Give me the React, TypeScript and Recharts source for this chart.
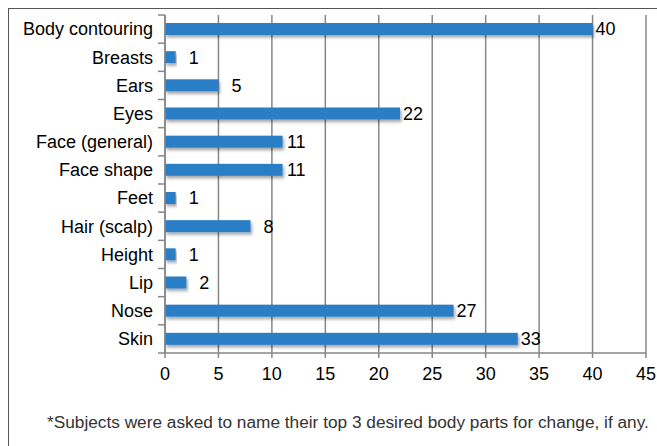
import React from "react";
import {
  BarChart,
  Bar,
  XAxis,
  YAxis,
  CartesianGrid,
  LabelList,
} from "recharts";

const bodyParts = [
  "Body contouring",
  "Breasts",
  "Ears",
  "Eyes",
  "Face (general)",
  "Face shape",
  "Feet",
  "Hair (scalp)",
  "Height",
  "Lip",
  "Nose",
  "Skin",
];
const counts = [40, 1, 5, 22, 11, 11, 1, 8, 1, 2, 27, 33];
const xTicks = [0, 5, 10, 15, 20, 25, 30, 35, 40, 45];
const footnote =
  "*Subjects were asked to name their top 3 desired body parts for change, if any.";

const data = bodyParts.map((name, i) => ({ name, count: counts[i] }));

const font = "'Liberation Sans', Arial, sans-serif";
const W = 648;
const H = 437;
const M = { top: 6, right: 11, bottom: 0, left: 0 };
const Y_W = 156;
const X_H = 93;
const band = (H - M.top - M.bottom - X_H) / bodyParts.length;

// bar with a soft drop shadow
function ShadowBar(props: any) {
  const { x, y, width, height } = props;
  if (!width || width <= 0) return null;
  return (
    <rect
      x={x}
      y={y}
      width={width}
      height={height}
      fill="#2b7ec6"
      filter="url(#barShadow)"
    />
  );
}

// category label + tick marks at the band boundaries
function CategoryTick(props: any) {
  const { y, payload, index } = props;
  const ax = M.left + Y_W;
  const top = y - band / 2;
  return (
    <g>
      <line x1={ax - 7} x2={ax} y1={top} y2={top} stroke="#878787" strokeWidth={1.5} />
      {index === bodyParts.length - 1 && (
        <line x1={ax - 7} x2={ax} y1={y + band / 2} y2={y + band / 2} stroke="#878787" strokeWidth={1.5} />
      )}
      <text
        x={ax - 12}
        y={y}
        dy="0.355em"
        textAnchor="end"
        fontSize={18}
        fill="#000"
        fontFamily={font}
      >
        {payload.value}
      </text>
    </g>
  );
}

// value labels sit right-aligned in a two-digit box past the bar end
function ValueLabel(props: any) {
  const { x, y, width, height, value } = props;
  return (
    <text
      x={x + width + 23}
      y={y + height / 2}
      dy="0.355em"
      textAnchor="end"
      fontSize={18}
      fill="#000"
      fontFamily={font}
    >
      {value}
    </text>
  );
}

export default function App() {
  return (
    <div
      style={{
        position: "absolute",
        left: 8,
        top: 8,
        width: W,
        height: H,
        borderTop: "1px solid #555",
        borderLeft: "1px solid #555",
        fontFamily: font,
      }}
    >
      <style>{`html { overflow: hidden; } svg.recharts-surface { overflow: visible; }`}</style>
      <BarChart
        width={W}
        height={H}
        data={data}
        layout="vertical"
        margin={M}
        barSize={12}
      >
        <defs>
          <filter id="barShadow" x="-5%" y="-30%" width="115%" height="190%">
            <feDropShadow dx="1.5" dy="2.5" stdDeviation="1.5" floodColor="#000" floodOpacity="0.35" />
          </filter>
        </defs>
        <CartesianGrid horizontal={false} stroke="#878787" strokeWidth={1.5} />
        <XAxis
          type="number"
          domain={[0, 45]}
          ticks={xTicks}
          interval={0}
          tick={{ fontSize: 18, fill: "#000", fontFamily: font }}
          tickSize={5}
          tickMargin={9}
          axisLine={{ stroke: "#878787", strokeWidth: 1.5 }}
          tickLine={{ stroke: "#878787", strokeWidth: 1.5 }}
          height={X_H}
        />
        <YAxis
          type="category"
          dataKey="name"
          width={Y_W}
          interval={0}
          tick={<CategoryTick />}
          tickSize={0}
          axisLine={{ stroke: "#878787", strokeWidth: 1.5 }}
          tickLine={false}
        />
        <Bar dataKey="count" shape={ShadowBar} isAnimationActive={false}>
          <LabelList dataKey="count" content={<ValueLabel />} />
        </Bar>
      </BarChart>
      <div
        style={{
          position: "absolute",
          left: 38,
          top: 403,
          fontSize: 17.25,
          color: "#333",
          whiteSpace: "nowrap",
        }}
      >
        {footnote}
      </div>
    </div>
  );
}
